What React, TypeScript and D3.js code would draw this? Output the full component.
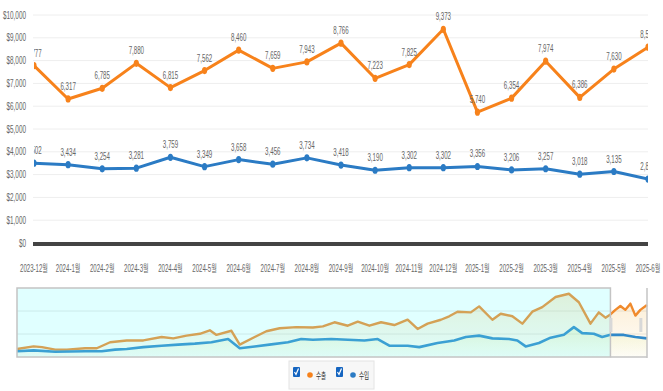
import React from "react";
import * as d3 from "d3";

const months = [
  "2023-12월", "2024-1월", "2024-2월", "2024-3월", "2024-4월", "2024-5월",
  "2024-6월", "2024-7월", "2024-8월", "2024-9월", "2024-10월", "2024-11월",
  "2024-12월", "2025-1월", "2025-2월", "2025-3월", "2025-4월", "2025-5월", "2025-6월",
];
const exportValues = [
  7777, 6317, 6785, 7880, 6815, 7562, 8460, 7659, 7943, 8766, 7223, 7825,
  9373, 5740, 6354, 7974, 6386, 7630, 8590,
];
const importValues = [
  3502, 3434, 3254, 3281, 3759, 3349, 3658, 3456, 3734, 3418, 3190, 3302,
  3302, 3356, 3206, 3257, 3018, 3135, 2805,
];
const yTicks = [0, 1000, 2000, 3000, 4000, 5000, 6000, 7000, 8000, 9000, 10000];

// navigator (daily index, value)
const navExport: [number, number][] = [
  [0, 35], [10, 46], [15, 43], [23, 32], [30, 32], [41, 38], [48, 38], [56, 64],
  [66, 72], [76, 72], [87, 87], [94, 81], [102, 93], [110, 101], [116, 116],
  [120, 96], [129, 114], [134, 54], [143, 87], [150, 112], [158, 125], [168, 130],
  [178, 128], [184, 133], [191, 151], [199, 136], [205, 154], [212, 136], [219, 151],
  [227, 139], [235, 162], [241, 122], [247, 145], [255, 162], [260, 177], [265, 197],
  [273, 194], [278, 220], [286, 162], [291, 188], [298, 177], [304, 145], [310, 197],
  [316, 217], [324, 261], [332, 275], [338, 238], [345, 145], [350, 194], [354, 171],
  [357, 185], [360, 205], [363, 222], [366, 205], [369, 232], [372, 180], [375, 205],
  [379, 226],
];
const navImport: [number, number][] = [
  [0, 25], [10, 29], [23, 23], [41, 25], [51, 25], [59, 32], [66, 35], [76, 43],
  [87, 49], [97, 54], [107, 58], [117, 64], [127, 78], [134, 38], [143, 46],
  [153, 55], [163, 64], [171, 78], [178, 75], [189, 78], [199, 75], [209, 72],
  [217, 78], [224, 49], [235, 49], [242, 43], [253, 61], [263, 72], [270, 87],
  [278, 93], [286, 81], [296, 78], [301, 72], [306, 46], [314, 61], [321, 84],
  [329, 97], [335, 130], [340, 104], [347, 101], [352, 87], [357, 97], [365, 96],
  [372, 87], [379, 81],
];

const W = 663;
const H = 391;
const FONT = "'Liberation Sans', Arial, 'Noto Sans CJK KR', sans-serif";
const ORANGE = "#f7821b";
const BLUE = "#2b7bc4";

// horizontally squeezed text (the source uses a very narrow face)
function NText({
  x, y, children, anchor = "middle", size = 10.5, sx = 0.58, fill = "#666",
  family = FONT,
}: {
  x: number; y: number; children: React.ReactNode; anchor?: string;
  size?: number; sx?: number; fill?: string; family?: string;
}) {
  return (
    <text
      transform={`translate(${x},${y}) scale(${sx},1)`}
      textAnchor={anchor as any}
      fontFamily={family}
      fontSize={size}
      fill={fill}
    >
      {children}
    </text>
  );
}

export default function App() {
  const x = d3.scalePoint<string>().domain(months).range([34, 648]);
  const y = d3.scaleLinear().domain([0, 10000]).range([243, 15]);

  const line = d3
    .line<number>()
    .x((_, i) => x(months[i]) as number)
    .y((d) => y(d));

  const nx = d3.scaleLinear().domain([0, 379]).range([17, 647]);
  const ny = d3.scaleLinear().domain([0, 300]).range([357, 288]);
  const navLine = d3.line<[number, number]>().x((d) => nx(d[0])).y((d) => ny(d[1]));
  const navArea = d3
    .area<[number, number]>()
    .x((d) => nx(d[0]))
    .y0(357)
    .y1((d) => ny(d[1]));

  const selEnd = nx(357);

  const series = [
    { name: "수출", values: exportValues, color: ORANGE },
    { name: "수입", values: importValues, color: BLUE },
  ];

  return (
    <svg
      width={W}
      height={H}
      style={{ position: "absolute", left: 0, top: 0, background: "#fff" }}
    >
      <defs>
        <clipPath id="plot-clip">
          <rect x={34} y={0} width={614} height={250} />
        </clipPath>
        <linearGradient id="nav-orange" x1="0" y1="0" x2="0" y2="1">
          <stop offset="0%" stopColor="#f5c060" stopOpacity={0.28} />
          <stop offset="100%" stopColor="#f5c060" stopOpacity={0.03} />
        </linearGradient>
        <linearGradient id="nav-blue" x1="0" y1="0" x2="0" y2="1">
          <stop offset="0%" stopColor="#d8ec90" stopOpacity={0.25} />
          <stop offset="100%" stopColor="#d8ec90" stopOpacity={0.03} />
        </linearGradient>
      </defs>

      {/* grid + y axis */}
      {yTicks.map((t) => (
        <g key={t}>
          {t > 0 && (
            <line x1={33} x2={648} y1={y(t)} y2={y(t)} stroke="#eeeeee" strokeWidth={1} />
          )}
          <NText x={26} y={y(t) + 3.5} anchor="end" size={10} sx={0.64}>
            {"$" + d3.format(",")(t)}
          </NText>
        </g>
      ))}
      <rect x={33} y={242} width={615} height={4} fill="#444" />

      {/* x labels */}
      {months.map((m) => (
        <NText key={m} x={x(m) as number} y={272} size={10.5} sx={0.58}>
          {m}
        </NText>
      ))}

      {/* series */}
      <g clipPath="url(#plot-clip)">
        {series.map((s) => (
          <g key={s.name}>
            <path d={line(s.values) ?? ""} fill="none" stroke={s.color} strokeWidth={3} strokeLinejoin="round" />
            {s.values.map((v, i) => (
              <ellipse key={i} cx={x(months[i])} cy={y(v)} rx={2.6} ry={3.6} fill={s.color} />
            ))}
            {s.values.map((v, i) => (
              <NText key={"l" + i} x={x(months[i]) as number} y={y(v) - 9} size={11} sx={0.56}>
                {d3.format(",")(v)}
              </NText>
            ))}
          </g>
        ))}
      </g>

      {/* navigator */}
      <g>
        <line x1={17} x2={647} y1={ny(100)} y2={ny(100)} stroke="#e6e6e6" />
        <line x1={17} x2={647} y1={ny(200)} y2={ny(200)} stroke="#e6e6e6" />
        <path d={navArea(navExport) ?? ""} fill="url(#nav-orange)" />
        <path d={navArea(navImport) ?? ""} fill="url(#nav-blue)" />
        <path d={navLine(navExport) ?? ""} fill="none" stroke="#f08a2c" strokeWidth={2.4} strokeLinejoin="round" />
        <path d={navLine(navImport) ?? ""} fill="none" stroke="#3189c9" strokeWidth={2.6} strokeLinejoin="round" />
        <rect x={17} y={288} width={selEnd - 17} height={69} fill="rgba(102,255,255,0.2)" />
        <rect x={17} y={288} width={selEnd - 17} height={69} fill="none" stroke="#c4c4c4" strokeWidth={1.5} />
        <line x1={selEnd} x2={647} y1={357} y2={357} stroke="#c4c4c4" strokeWidth={1.5} />
        <line x1={647} x2={647} y1={288} y2={358} stroke="#c4c4c4" strokeWidth={1.5} />
        <rect x={selEnd - 1} y={318} width={3} height={14} fill="#d8d8d8" />
        <rect x={nx(375) - 1} y={318} width={3} height={14} fill="#d8d8d8" />
      </g>

      {/* legend */}
      <g>
        <rect x={289} y={361} width={85} height={28} fill="#f7f7f7" stroke="#e4e4e4" />
        {series.map((s, i) => {
          const ox = 293 + i * 43;
          return (
            <g key={s.name}>
              <rect x={ox} y={367} width={7} height={10} fill="#1565c0" rx={1} />
              <path
                d={`M${ox + 1.5},${372} L${ox + 3},${374.5} L${ox + 5.5},${368.5}`}
                fill="none"
                stroke="#fff"
                strokeWidth={1.2}
              />
              <circle cx={ox + 17} cy={375} r={2.8} fill={s.color} />
              <NText x={ox + 23} y={379} anchor="start" size={9.5} sx={0.58} fill="#333"
                family="'Noto Sans CJK KR', sans-serif">
                {s.name}
              </NText>
            </g>
          );
        })}
      </g>
    </svg>
  );
}
